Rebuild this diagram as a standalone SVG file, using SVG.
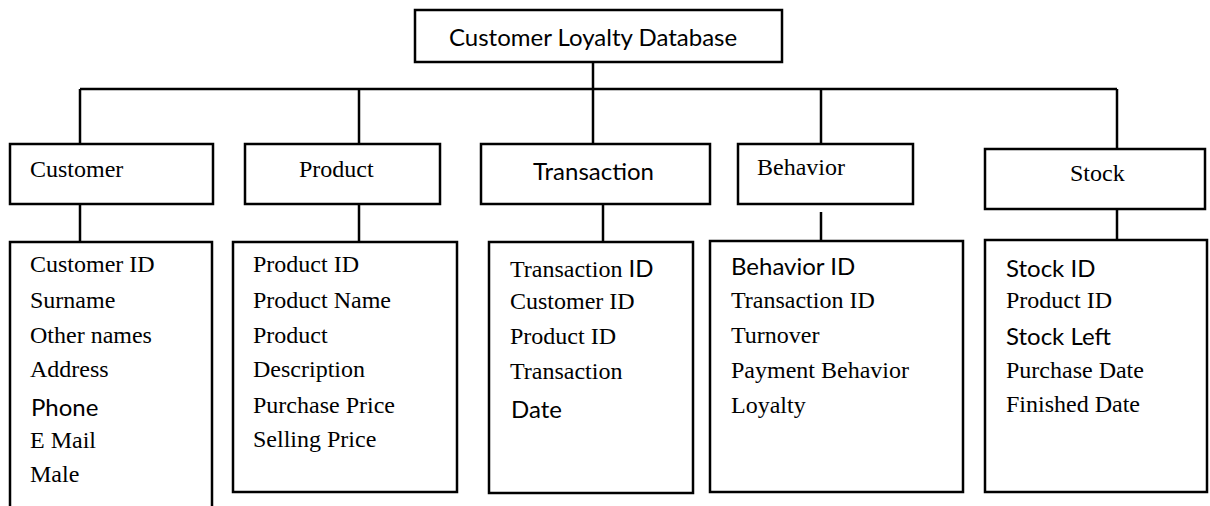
<svg xmlns="http://www.w3.org/2000/svg" width="1210" height="506" viewBox="0 0 1210 506">
<style>
  .box { fill: #fff; stroke: #000; stroke-width: 2.5; }
  .edge { fill: none; stroke: #000; stroke-width: 2.5; }
  .tm { font-family: "Liberation Serif", "Times New Roman", serif; font-size: 24px; fill: #000; }
  .sn { font-family: "Lato", "Open Sans", sans-serif; font-size: 24px; fill: #000; }
</style>
<rect width="1210" height="506" fill="#fff"/>
<g id="connectors">
  <path class="edge" d="M593 62 V89"/>
  <path class="edge" d="M80 89 H1117"/>
  <path class="edge" d="M80 89 V144"/>
  <path class="edge" d="M359 89 V144"/>
  <path class="edge" d="M593 89 V144"/>
  <path class="edge" d="M821 89 V144"/>
  <path class="edge" d="M1117 89 V149"/>
  <path class="edge" d="M80 204 V242"/>
  <path class="edge" d="M359 204 V242"/>
  <path class="edge" d="M603 204 V242"/>
  <path class="edge" d="M821 212 V241"/>
  <path class="edge" d="M1117 209 V240"/>
</g>
<g id="root">
  <rect class="box" x="415" y="10" width="367" height="52"/>
  <text class="sn" x="449" y="46">Customer Loyalty Database</text>
</g>
<g id="customer">
  <rect class="box" x="10" y="144" width="203" height="60"/>
  <text class="tm" x="30" y="177">Customer</text>
</g>
<g id="product">
  <rect class="box" x="245" y="144" width="195" height="60"/>
  <text class="tm" x="299" y="177">Product</text>
</g>
<g id="transaction">
  <rect class="box" x="481" y="144" width="229" height="60"/>
  <text class="sn" x="533" y="180">Transaction</text>
</g>
<g id="behavior">
  <rect class="box" x="738" y="144" width="175" height="60"/>
  <text class="tm" x="757" y="175">Behavior</text>
</g>
<g id="stock">
  <rect class="box" x="985" y="149" width="220" height="60"/>
  <text class="tm" x="1070" y="181">Stock</text>
</g>
<g id="customer-fields">
  <path class="edge" d="M10 506 V242 H212 V506"/>
  <text class="tm" x="30" y="272">Customer ID</text>
  <text class="tm" x="30" y="308">Surname</text>
  <text class="tm" x="30" y="343">Other names</text>
  <text class="tm" x="30" y="377">Address</text>
  <text class="sn" x="31" y="416">Phone</text>
  <text class="tm" x="30" y="448">E Mail</text>
  <text class="tm" x="30" y="482">Male</text>
</g>
<g id="product-fields">
  <rect class="box" x="233" y="242" width="224" height="250"/>
  <text class="tm" x="253" y="272">Product ID</text>
  <text class="tm" x="253" y="308">Product Name</text>
  <text class="tm" x="253" y="343">Product</text>
  <text class="tm" x="253" y="377">Description</text>
  <text class="tm" x="253" y="413">Purchase Price</text>
  <text class="tm" x="253" y="447">Selling Price</text>
</g>
<g id="transaction-fields">
  <rect class="box" x="489" y="242" width="204" height="251"/>
  <text class="tm" x="510" y="277">Transaction <tspan class="sn">ID</tspan></text>
  <text class="tm" x="510" y="309">Customer ID</text>
  <text class="tm" x="510" y="344">Product ID</text>
  <text class="tm" x="510" y="379">Transaction</text>
  <text class="sn" x="511" y="418">Date</text>
</g>
<g id="behavior-fields">
  <rect class="box" x="710" y="241" width="253" height="251"/>
  <text class="sn" x="731" y="275">Behavior ID</text>
  <text class="tm" x="731" y="308">Transaction ID</text>
  <text class="tm" x="731" y="343">Turnover</text>
  <text class="tm" x="731" y="378">Payment Behavior</text>
  <text class="tm" x="731" y="413">Loyalty</text>
</g>
<g id="stock-fields">
  <rect class="box" x="985" y="240" width="222" height="252"/>
  <text class="sn" x="1006" y="277">Stock ID</text>
  <text class="tm" x="1006" y="308">Product ID</text>
  <text class="sn" x="1006" y="345">Stock Left</text>
  <text class="tm" x="1006" y="378">Purchase Date</text>
  <text class="tm" x="1006" y="412">Finished Date</text>
</g>
</svg>
